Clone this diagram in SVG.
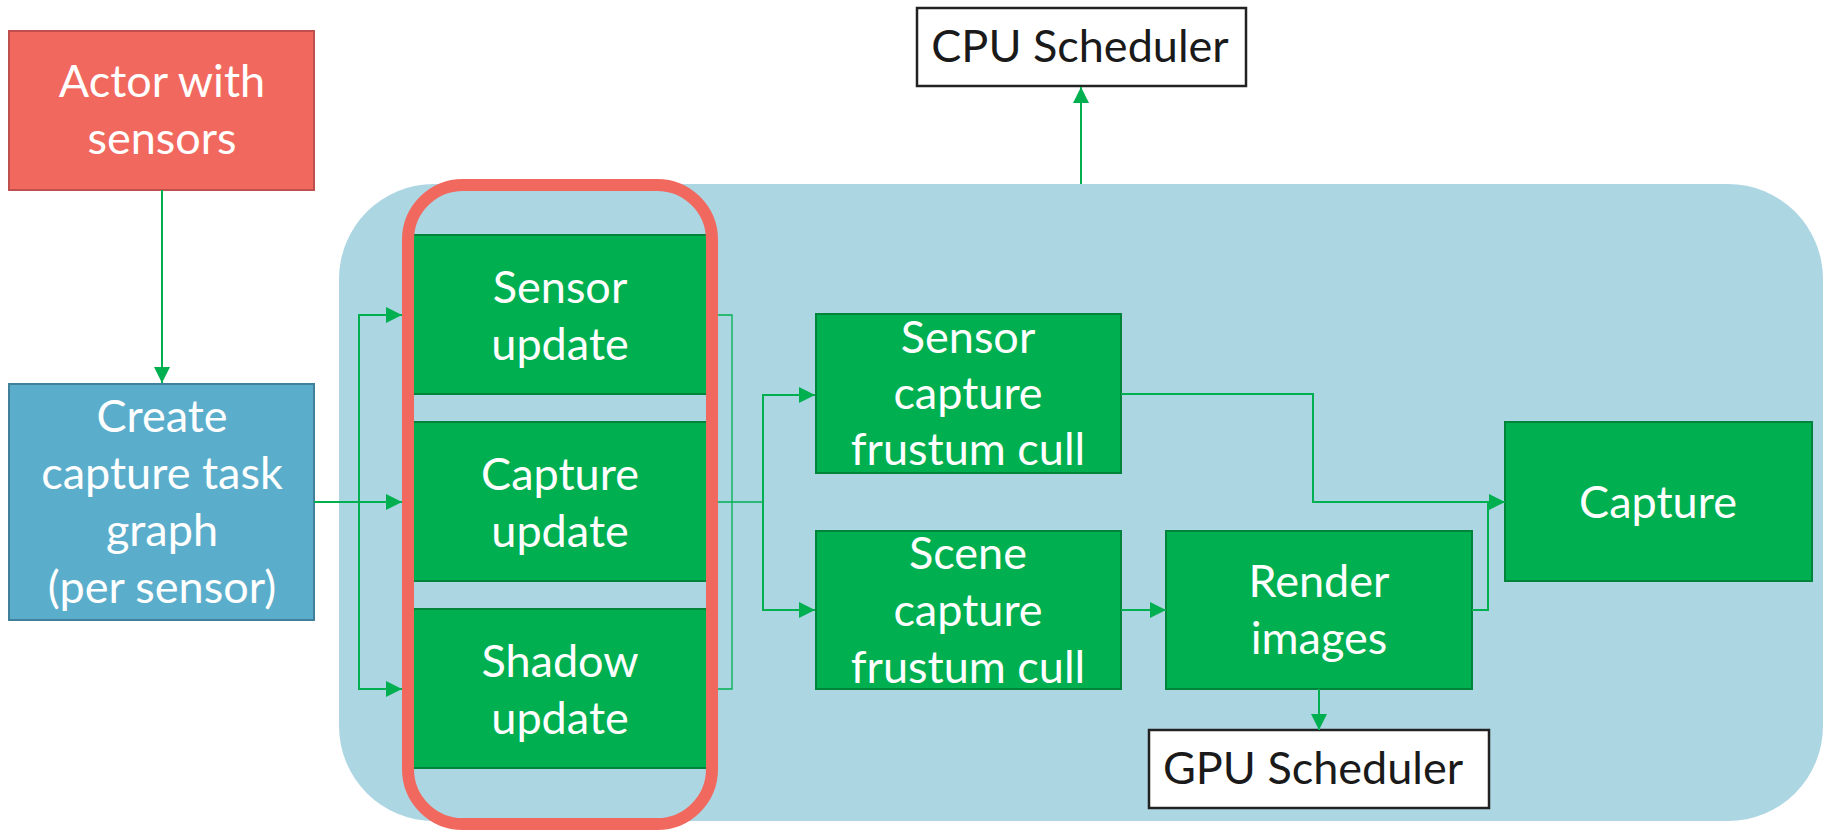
<svg xmlns="http://www.w3.org/2000/svg" width="1825" height="830" viewBox="0 0 1825 830">
  <style>
    .t { font-family: Lato, "Liberation Sans", sans-serif; font-size: 45px; fill: #ffffff; text-anchor: middle; }
    .tb { font-family: Lato, "Liberation Sans", sans-serif; font-size: 45px; fill: #1a1a1a; text-anchor: middle; }
    .green { fill: #00B050; stroke: #00843C; stroke-width: 2; }
    .sched { fill: #ffffff; stroke: #222222; stroke-width: 2.5; }
    .conn { fill: none; stroke: #00B050; stroke-width: 2; }
    .thin { fill: none; stroke: #00B050; stroke-width: 1.3; }
  </style>
  <defs>
    <marker id="arr" markerUnits="userSpaceOnUse" markerWidth="16" markerHeight="16" viewBox="0 0 15 15" refX="15" refY="7.5" orient="auto">
      <path d="M0,0 L15,7.5 L0,15 Z" fill="#00B050"/>
    </marker>
  </defs>
  <rect width="1825" height="830" fill="#ffffff"/>

  <g id="container">
    <rect x="339" y="184" width="1484" height="637" rx="95" ry="95" fill="#ADD6E3"/>
  </g>

  <g id="actor">
    <rect x="9" y="31" width="305" height="159" fill="#F1685E" stroke="#C0504D" stroke-width="2"/>
    <text class="t" x="162" y="97">Actor with</text>
    <text class="t" x="162" y="154">sensors</text>
  </g>

  <g id="create">
    <rect x="9" y="384" width="305" height="236" fill="#5BAECB" stroke="#41809A" stroke-width="2"/>
    <text class="t" x="162" y="432">Create</text>
    <text class="t" x="162" y="489">capture task</text>
    <text class="t" x="162" y="546">graph</text>
    <text class="t" x="162" y="603">(per sensor)</text>
  </g>

  <g id="sensor-update">
    <rect class="green" x="410" y="235" width="300" height="159"/>
    <text class="t" x="560" y="303">Sensor</text>
    <text class="t" x="560" y="360">update</text>
  </g>
  <g id="capture-update">
    <rect class="green" x="410" y="422" width="300" height="159"/>
    <text class="t" x="560" y="490">Capture</text>
    <text class="t" x="560" y="547">update</text>
  </g>
  <g id="shadow-update">
    <rect class="green" x="410" y="609" width="300" height="159"/>
    <text class="t" x="560" y="677">Shadow</text>
    <text class="t" x="560" y="734">update</text>
  </g>

  <g id="highlight">
    <rect x="408" y="185" width="304" height="639" rx="55" ry="55" fill="none" stroke="#F0685E" stroke-width="12"/>
  </g>

  <g id="sensor-capture-cull">
    <rect class="green" x="816" y="314" width="305" height="159"/>
    <text class="t" x="968" y="353">Sensor</text>
    <text class="t" x="968" y="409">capture</text>
    <text class="t" x="968" y="465">frustum cull</text>
  </g>

  <g id="scene-capture-cull">
    <rect class="green" x="816" y="531" width="305" height="158"/>
    <text class="t" x="968" y="569">Scene</text>
    <text class="t" x="968" y="626">capture</text>
    <text class="t" x="968" y="683">frustum cull</text>
  </g>

  <g id="render-images">
    <rect class="green" x="1166" y="531" width="306" height="158"/>
    <text class="t" x="1319" y="597">Render</text>
    <text class="t" x="1319" y="654">images</text>
  </g>

  <g id="capture">
    <rect class="green" x="1505" y="422" width="307" height="159"/>
    <text class="t" x="1658" y="518">Capture</text>
  </g>

  <g id="cpu-scheduler">
    <rect class="sched" x="917" y="8" width="329" height="78"/>
    <text class="tb" x="1080" y="62">CPU Scheduler</text>
  </g>

  <g id="gpu-scheduler">
    <rect class="sched" x="1149" y="730" width="340" height="78"/>
    <text class="tb" x="1313" y="784">GPU Scheduler</text>
  </g>

  <g id="connectors">
    <path class="conn" d="M162,190 V383" marker-end="url(#arr)"/>
    <path class="conn" stroke-width="3" d="M314,502 H402" marker-end="url(#arr)"/>
    <path class="conn" d="M359,502 V315 H402" marker-end="url(#arr)"/>
    <path class="conn" d="M359,502 V689 H402" marker-end="url(#arr)"/>
    <path class="thin" d="M718,315 H732 V689 H718"/>
    <path class="thin" d="M718,502 H763"/>
    <path class="conn" d="M763,502 V395 H815" marker-end="url(#arr)"/>
    <path class="conn" d="M763,502 V610 H815" marker-end="url(#arr)"/>
    <path class="conn" d="M1121,394 H1313 V502 H1505" marker-end="url(#arr)"/>
    <path class="conn" d="M1121,610 H1166" marker-end="url(#arr)"/>
    <path class="conn" d="M1472,610 H1488 V502"/>
    <path class="conn" d="M1319,689 V730" marker-end="url(#arr)"/>
    <path class="conn" d="M1081,184 V87" marker-end="url(#arr)"/>
  </g>
</svg>
